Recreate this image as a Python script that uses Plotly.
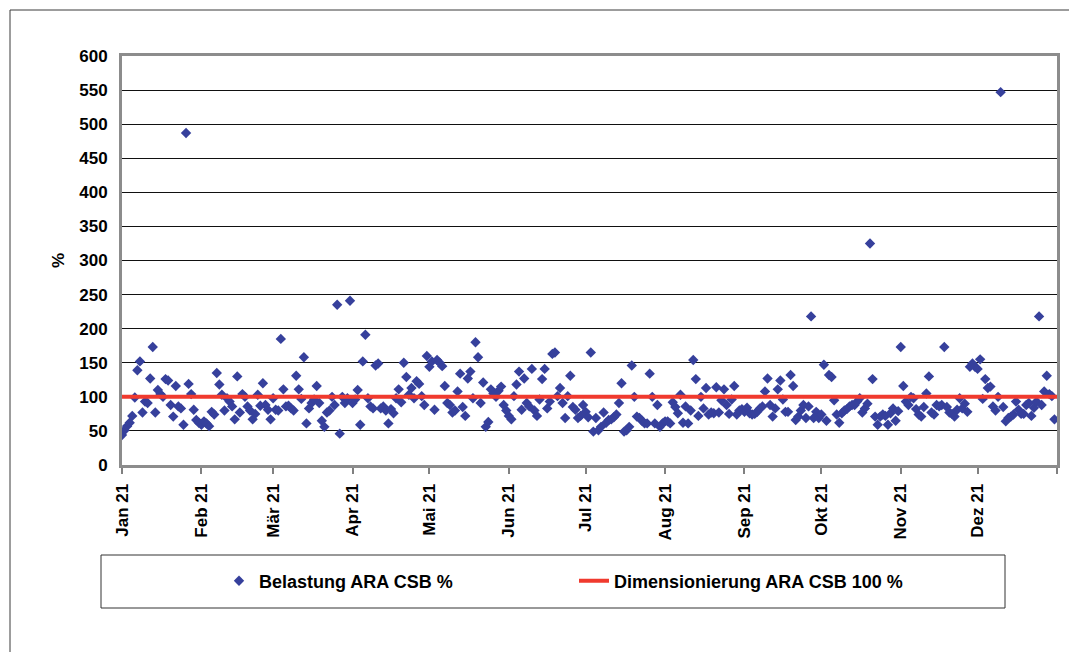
import pandas as pd
import plotly.graph_objects as go

# ---- data (daily values, 2021) ----
jan = [44, 51, 57, 62, 72, 99, 139, 152, 77, 93, 91, 127, 173, 77, 110, 104, 100, 126, 124, 88,
       71, 116, 86, 83, 59, 487, 119, 104, 81, 66, 62]
feb = [59, 64, 61, 57, 78, 74, 135, 118, 103, 80, 98, 93, 86, 67, 130, 77, 104, 100, 86, 80,
       67, 75, 103, 87, 120, 88, 81, 67]
mar = [98, 81, 80, 185, 111, 86, 87, 83, 80, 131, 111, 97, 158, 61, 83, 91, 96, 116, 91, 65,
       56, 77, 80, 100, 88, 235, 46, 100, 91, 98, 241]
apr = [91, 96, 110, 59, 152, 191, 98, 86, 83, 146, 149, 83, 86, 80, 61, 82, 76, 98, 111, 92,
       150, 129, 103, 113, 98, 123, 119, 101, 88, 160]
mai = [144, 152, 81, 154, 150, 145, 116, 91, 88, 77, 80, 108, 134, 85, 72, 127, 137, 98, 180, 158,
       91, 121, 56, 63, 111, 105, 100, 109, 115, 88, 80]
jun = [72, 67, 101, 118, 137, 81, 127, 91, 86, 141, 80, 72, 96, 126, 141, 83, 93, 163, 165, 101,
       113, 91, 69, 101, 131, 85, 81, 69, 72, 88]
jul = [78, 70, 165, 49, 69, 51, 56, 77, 62, 66, 67, 70, 74, 91, 120, 49, 51, 56, 146, 100,
       71, 69, 65, 61, 61, 134, 100, 61, 88, 56, 61]
aug = [64, 64, 61, 92, 85, 76, 103, 62, 86, 61, 80, 154, 126, 72, 100, 83, 113, 74, 77, 76,
       114, 77, 95, 111, 88, 75, 96, 116, 74, 80, 82]
sep = [78, 84, 76, 74, 75, 78, 83, 86, 108, 127, 88, 71, 83, 111, 124, 96, 78, 78, 132, 116,
       66, 71, 80, 88, 69, 86, 218, 69, 78, 69]
okt = [74, 147, 65, 132, 129, 95, 74, 62, 76, 80, 82, 86, 88, 88, 93, 98, 77, 83, 90, 325,
       126, 71, 59, 71, 74, 72, 59, 76, 83, 65, 79]
nov = [173, 116, 93, 88, 100, 98, 82, 74, 71, 85, 105, 130, 77, 74, 88, 86, 88, 173, 85, 77,
       75, 71, 81, 98, 83, 90, 78, 144, 149, 144]
dez = [141, 155, 97, 126, 113, 115, 86, 80, 100, 547, 85, 64, 69, 71, 74, 93, 81, 75, 75, 88,
       91, 72, 84, 93, 218, 88, 108, 131, 104, 101, 67]

belastung = jan + feb + mar + apr + mai + jun + jul + aug + sep + okt + nov + dez
dates = pd.date_range("2021-01-01", periods=len(belastung), freq="D")

dimensionierung = 100
axis_start, axis_end = "2021-01-01", "2022-01-01"

month_ticks = pd.date_range("2021-01-01", "2022-01-01", freq="MS")
month_labels = ["Jan 21", "Feb 21", "Mär 21", "Apr 21", "Mai 21", "Jun 21", "Jul 21",
                "Aug 21", "Sep 21", "Okt 21", "Nov 21", "Dez 21", ""]

name_pts = "Belastung ARA CSB %"
name_line = "Dimensionierung ARA CSB 100 %"

# ---- layout geometry (page pixels; the page body has an 8px margin) ----
OFF = 8
W, H = 1077 - OFF, 652 - OFF
L, R, T, B = 122, 1057, 56, 465   # plot area in page pixels


def px(x):
    return (x - L) / (R - L)


def py(y):
    return (B - y) / (B - T)


FONT = "Liberation Sans, Arial, sans-serif"
FS = 17

fig = go.Figure()
fig.add_trace(go.Scatter(
    x=dates, y=belastung, mode="markers", name=name_pts,
    marker=dict(symbol="diamond", size=8, color="#36409C", line=dict(width=0)),
))
fig.add_trace(go.Scatter(
    x=[axis_start, axis_end], y=[dimensionierung, dimensionierung], mode="lines",
    name=name_line, line=dict(color="#F03A2E", width=4),
))

shapes = [
    # outer chart frame (partially visible)
    dict(type="line", xref="paper", yref="paper", x0=px(10), y0=py(10), x1=px(1090), y1=py(10),
         line=dict(color="#3a3a3a", width=1)),
    dict(type="line", xref="paper", yref="paper", x0=px(10), y0=py(10), x1=px(10), y1=py(670),
         line=dict(color="#3a3a3a", width=1)),
    # legend box
    dict(type="rect", xref="paper", yref="paper", x0=px(101), y0=py(555), x1=px(1005), y1=py(608),
         line=dict(color="#333333", width=1), fillcolor="rgba(0,0,0,0)"),
]

fig.update_layout(
    width=W, height=H,
    margin=dict(l=L - OFF, r=(W + OFF) - R, t=T - OFF, b=(H + OFF) - B, pad=0),
    paper_bgcolor="white", plot_bgcolor="white",
    font=dict(family=FONT, size=FS, color="black", weight="bold"),
    showlegend=True,
    legend=dict(
        orientation="h", x=px(219), xanchor="left", y=py(581), yanchor="middle",
        bgcolor="rgba(0,0,0,0)", borderwidth=0,
        font=dict(family=FONT, size=18, color="black", weight="bold"),
        entrywidth=310, entrywidthmode="pixels",
    ),
    shapes=shapes,
    xaxis=dict(
        type="date", range=[axis_start, axis_end],
        tickvals=list(month_ticks), ticktext=month_labels, tickangle=-90,
        ticks="outside", ticklen=6, tickwidth=2, tickcolor="#808080",
        ticklabelstandoff=3,
        showgrid=False, zeroline=False,
        showline=True, linecolor="#8C8C8C", linewidth=3, mirror=True,
        tickfont=dict(family=FONT, size=FS, color="black", weight="bold"),
    ),
    yaxis=dict(
        range=[0, 600], dtick=50, tick0=0,
        showgrid=True, gridcolor="#111111", gridwidth=1,
        zeroline=False, ticks="", ticklabelstandoff=8,
        showline=True, linecolor="#8C8C8C", linewidth=3, mirror=True,
        tickfont=dict(family=FONT, size=FS, color="black", weight="bold"),
        title=dict(text="%", standoff=11, font=dict(family=FONT, size=FS, color="black", weight="bold")),
    ),
)

fig.write_html("out.html")
